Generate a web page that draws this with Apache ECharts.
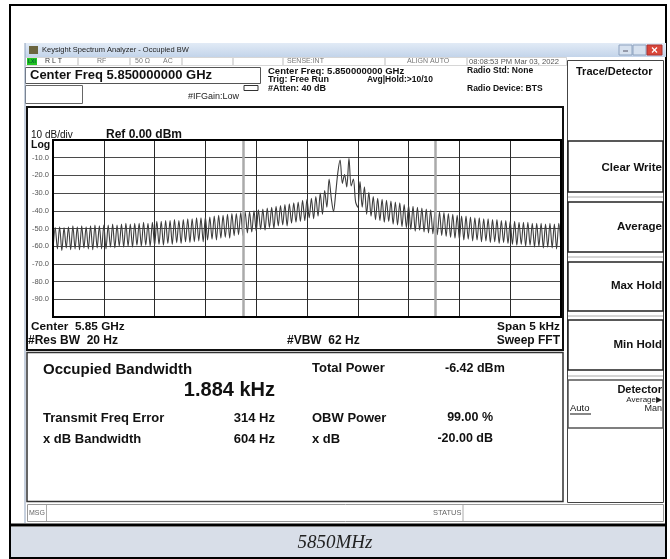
<!DOCTYPE html>
<html>
<head>
<meta charset="utf-8">
<title>Occupied BW 5850MHz</title>
<script src="https://cdn.jsdelivr.net/npm/echarts@6.0.0/dist/echarts.min.js"></script>
<style>
  html, body { margin: 0; padding: 0; background: #fff; }
  #main { width: 670px; height: 559px; }
</style>
</head>
<body>
<div id="main"></div>
<script>
// trace, dBm, 231 points across the 5 kHz span
const traceLeft = [
  -62, -49.5, -61.5, -49, -62.5, -49.5, -61, -49, -62, -48.5, -61.5, -49, -62, -48.5, -61, -49, -61.5, -48.5, -62, -48, -61, -48.5, -61.5,
  -48, -61.5, -48, -60.5, -47.5, -61, -48, -60, -47.5, -60.5, -47, -60, -47.5, -60.5, -47, -59.5, -47, -60, -46.5, -59.5, -47, -60, -46.5,
  -59.5, -46, -59, -46, -59.5, -45.5, -58.5, -45.5, -59, -45, -58, -45.5, -58.5, -45, -57.5, -44.5, -58, -44.5, -57.5, -44, -57, -44, -57.5,
  -43.5, -56.5, -43.5, -56, -43, -56.5, -42.5, -55.5, -42.5, -55, -42, -55.5, -41.5, -54, -41.5, -53.5, -41, -54, -40.5, -52.5, -40.5, -52, -40,
  -51.5, -39.5, -50.5, -39, -51, -38.5, -49.5, -38, -50, -37.5, -48.5, -37, -48, -36.5, -48.5, -36, -47, -35.5, -46.5, -35, -46, -34, -45.5
];
const traceCenter = [
  -33.5, -44, -33, -44.5, -32, -43, -30, -42, -28.5, -38, -22, -33, -40.5, -30, -18, -11.3, -24.5, -19.5,
  -26.5, -10.3, -26, -22, -35, -38, -23.5, -38, -26.5, -42, -29.5, -43, -32, -45, -33, -45.5, -33.5, -46.5
];
const traceRight = [
  -34, -46, -34.5, -47.5, -35, -48, -35.5, -49, -36.5, -49.5, -37,
  -50.5, -37.5, -51.5, -38, -51, -38.5, -52, -39, -52.5, -39.5, -53, -40, -53.5, -40.5, -54, -41, -54.5, -41.5, -55, -42, -55.5, -42.5,
  -56, -43, -56.5, -43, -56, -43.5, -57, -44, -56.5, -44, -57.5, -44.5, -57, -44.5, -58, -45, -57.5, -45, -58.5, -45.5, -58, -45.5, -58.5,
  -46, -59, -46, -59.5, -46.5, -59, -46.5, -60, -46.5, -59.5, -47, -60.5, -47, -60, -47, -61, -47.5, -60.5, -47, -61, -47.5, -61.5, -47, -61
];
// occupied bandwidth edges, kHz from centre
const obwEdgesKHz = [-0.628, 1.256];
const spanKHz = 5;
const yTicks = [-10, -20, -30, -40, -50, -60, -70, -80, -90];

const trace = traceLeft.concat(traceCenter, traceRight);
const stepKHz = spanKHz / (trace.length - 1);
const traceData = trace.map((v, i) => [-spanKHz / 2 + i * stepKHz, v]);

const SANS = '"Liberation Sans", Arial, sans-serif';
const SERIF = '"Liberation Serif", "Times New Roman", serif';

// small helpers for the analyzer screen furniture
function txt(x, y, s, size, o) {
  o = o || {};
  return {
    type: 'text', x: x, y: y, z: 20,
    style: {
      text: s,
      font: (o.italic ? 'italic ' : '') + (o.normal ? '' : 'bold ') + size + 'px ' + (o.family || SANS),
      fill: o.color || '#111',
      align: o.align || 'left',
      verticalAlign: 'middle'
    }
  };
}
function box(x, y, w, h, stroke, lw, fill, z) {
  return {
    type: 'rect', z: z || 1,
    shape: { x: x, y: y, width: w, height: h },
    style: { fill: fill || 'none', stroke: stroke, lineWidth: lw || 1 }
  };
}
function ln(x1, y1, x2, y2, stroke, lw) {
  return {
    type: 'line', z: 5,
    shape: { x1: x1, y1: y1, x2: x2, y2: y2 },
    style: { stroke: stroke, lineWidth: lw || 1 }
  };
}

const graphics = [
  // outer frame + caption
  box(10, 5, 656, 553, '#000', 2),
  box(11, 527, 654, 30, 'none', 0, '#d8dee8'),
  ln(10, 525, 666, 525, '#000', 3),
  txt(335, 543, '5850MHz', 19, { normal: true, italic: true, align: 'center', family: SERIF, color: '#222' }),

  // window title bar
  {
    type: 'rect', z: 1,
    shape: { x: 25, y: 43, width: 641, height: 14 },
    style: {
      fill: new echarts.graphic.LinearGradient(0, 0, 0, 1, [
        { offset: 0, color: '#e2ebf6' }, { offset: 1, color: '#c3d4ea' }
      ])
    }
  },
  box(29, 46, 9, 8, 'none', 0, '#6b6540', 2),
  txt(42, 50, 'Keysight Spectrum Analyzer - Occupied BW', 7.5, { normal: true, color: '#1e1e1e' }),
  box(619, 45, 13, 10, '#8da2bf', 1, '#d6e1ef', 2),
  box(633, 45, 13, 10, '#8da2bf', 1, '#d6e1ef', 2),
  box(647, 45, 15, 10, '#a33', 1, '#d9463a', 2),
  ln(623, 51, 628, 51, '#556', 1),
  ln(652, 47.5, 657, 52.5, '#fff', 1.2),
  ln(657, 47.5, 652, 52.5, '#fff', 1.2),
  ln(25, 43, 25, 523, '#8fa2bd', 1),

  // status row
  box(25.5, 57.5, 541, 8, '#bbb', 0.6, '#fff'),
  box(27, 58, 10, 7, 'none', 0, '#22c422', 3),
  txt(28, 61.5, 'LXI', 5, { color: '#063' }),
  txt(45, 61.5, 'R L T', 7, { normal: true, color: '#333' }),
  txt(97, 61.5, 'RF', 7, { normal: true, color: '#777' }),
  txt(135, 61.5, '50 Ω', 7, { normal: true, color: '#777' }),
  txt(163, 61.5, 'AC', 7, { normal: true, color: '#777' }),
  txt(287, 61.5, 'SENSE:INT', 7, { normal: true, color: '#777' }),
  txt(407, 61.5, 'ALIGN AUTO', 7, { normal: true, color: '#777' }),
  txt(469, 61.5, '08:08:53 PM Mar 03, 2022', 7.6, { normal: true, color: '#555' }),
  ln(78, 58, 78, 65, '#bbb'), ln(130, 58, 130, 65, '#bbb'), ln(182, 58, 182, 65, '#bbb'),
  ln(233, 58, 233, 65, '#bbb'), ln(283, 58, 283, 65, '#bbb'), ln(385, 58, 385, 65, '#bbb'),
  ln(467, 58, 467, 65, '#bbb'),

  // setting header
  box(25.5, 67.5, 235, 16, '#555', 1),
  txt(30, 75.5, 'Center Freq 5.850000000 GHz', 13),
  box(25.5, 85.5, 57, 18, '#666', 1),
  txt(188, 97, '#IFGain:Low', 9, { normal: true, color: '#222' }),
  box(244, 85.5, 14, 5, '#333', 1),
  txt(268, 71, 'Center Freq: 5.850000000 GHz', 9.5),
  txt(268, 80, 'Trig: Free Run', 9),
  txt(268, 89, '#Atten: 40 dB', 9),
  txt(367, 80, 'Avg|Hold:>10/10', 8.5),
  txt(467, 71, 'Radio Std: None', 8.5),
  txt(467, 89, 'Radio Device: BTS', 8.5),

  // plot panel
  box(27, 107, 536, 243, '#111', 2),
  txt(31, 135, '10 dB/div', 10, { normal: true }),
  txt(106, 134.5, 'Ref 0.00 dBm', 12),
  txt(31, 145, 'Log', 10.5),
  box(53, 140, 508, 177, '#000', 2, 'none', 100),
  txt(31, 327, 'Center  5.85 GHz', 11.8),
  txt(28, 341, '#Res BW  20 Hz', 12),
  txt(287, 341, '#VBW  62 Hz', 12),
  txt(560, 327, 'Span 5 kHz', 11.8, { align: 'right' }),
  txt(560, 341, 'Sweep FFT', 12, { align: 'right' }),

  // measurement results panel
  box(27, 352.5, 536, 149, '#333', 1.5),
  txt(43, 370, 'Occupied Bandwidth', 15),
  txt(275, 390.5, '1.884 kHz', 20, { align: 'right' }),
  txt(43, 418, 'Transmit Freq Error', 13),
  txt(275, 418, '314 Hz', 13, { align: 'right' }),
  txt(43, 439, 'x dB Bandwidth', 13),
  txt(275, 439, '604 Hz', 13, { align: 'right' }),
  txt(312, 368.5, 'Total Power', 13),
  txt(445, 368.5, '-6.42 dBm', 12.5),
  txt(312, 418, 'OBW Power', 13),
  txt(493, 418, '99.00 %', 12.5, { align: 'right' }),
  txt(312, 439, 'x dB', 13),
  txt(493, 439, '-20.00 dB', 12.5, { align: 'right' }),

  // message / status bar
  box(27.5, 504.5, 636, 17, '#999', 1),
  txt(29, 513, 'MSG', 7, { normal: true, color: '#666' }),
  ln(46.5, 505, 46.5, 521, '#aaa'),
  txt(433, 513, 'STATUS', 7.5, { normal: true, color: '#666' }),
  ln(463, 505, 463, 521, '#aaa'),

  // softkey menu
  box(567.5, 60.5, 96, 442, '#444', 1),
  txt(576, 72, 'Trace/Detector', 11),
  box(568, 141, 95, 51, '#222', 1.5),
  ln(568, 197, 663, 197, '#aaa'),
  txt(662, 168, 'Clear Write', 11.5, { align: 'right' }),
  box(568, 202, 95, 50, '#222', 1.5),
  ln(568, 257, 663, 257, '#aaa'),
  txt(662, 227, 'Average', 11.5, { align: 'right' }),
  box(568, 262, 95, 49, '#222', 1.5),
  ln(568, 316, 663, 316, '#aaa'),
  txt(662, 286, 'Max Hold', 11.5, { align: 'right' }),
  box(568, 320, 95, 50, '#222', 1.5),
  ln(568, 376, 663, 376, '#aaa'),
  txt(662, 344.5, 'Min Hold', 11.5, { align: 'right' }),
  box(568, 380, 95, 48, '#555', 1.5),
  txt(662, 390, 'Detector', 11, { align: 'right' }),
  txt(662, 399.5, 'Average▶', 8, { align: 'right', normal: true, color: '#222' }),
  txt(570, 408.5, 'Auto', 9.5, { normal: true }),
  ln(570, 414, 591, 414, '#111'),
  txt(662, 408.5, 'Man', 9, { normal: true, color: '#222', align: 'right' })
];

const chart = echarts.init(document.getElementById('main'), null, { renderer: 'canvas' });
chart.setOption({
  animation: false,
  backgroundColor: '#fff',
  grid: { left: 53, top: 140, width: 508, height: 177 },
  xAxis: {
    type: 'value',
    min: -spanKHz / 2,
    max: spanKHz / 2,
    interval: 0.5,
    axisLine: { show: false },
    axisTick: { show: false },
    axisLabel: { show: false },
    splitLine: { lineStyle: { color: '#2a2a2a', width: 1 } }
  },
  yAxis: {
    type: 'value',
    min: -100,
    max: 0,
    interval: 10,
    axisLine: { show: false },
    axisTick: { show: false },
    splitLine: { lineStyle: { color: '#4a4a4a', width: 1 } },
    axisLabel: {
      margin: 4,
      color: '#555',
      fontSize: 7.5,
      fontFamily: SANS,
      formatter: v => (yTicks.indexOf(v) >= 0 ? v.toFixed(1) : '')
    }
  },
  series: [{
    type: 'line',
    data: traceData,
    symbol: 'none',
    smooth: 0.3,
    lineStyle: { color: '#3c3c3c', width: 1.1 },
    markLine: {
      silent: true,
      symbol: 'none',
      label: { show: false },
      lineStyle: { color: '#aaa', width: 2.5, type: 'solid' },
      data: obwEdgesKHz.map(v => ({ xAxis: v }))
    },
    z: 3
  }],
  graphic: graphics
});
</script>
</body>
</html>
